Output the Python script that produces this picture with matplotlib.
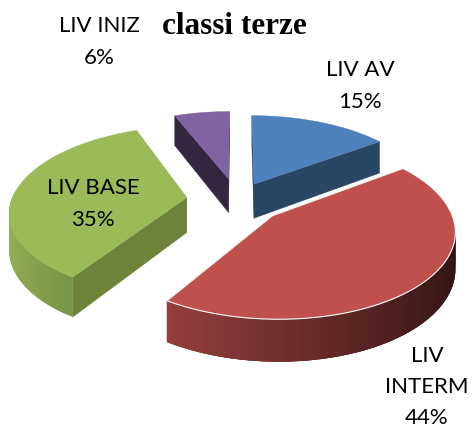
import numpy as np
import matplotlib
matplotlib.use('Agg')
import matplotlib.pyplot as plt
from matplotlib.patches import Polygon

title = 'classi terze'
categories = ['LIV AV', 'LIV\nINTERM', 'LIV BASE', 'LIV INIZ']
values = [15, 44, 35, 6]
explode = [0.22, 0.27, 0.29, 0.27]
colors = ['#4F81BD', '#C0504D', '#9BBB59', '#8064A2']
side_colors = ['#2A4665', '#4F1F1D', '#6E8239', '#33273F']
label_pos = [(360, 86), (427, 387), (93, 204), (99, 42)]

# projection of the pie plane, in pixels
cx, cy = 237, 200
ax_x, ax_y = 175, 83
persp = 0.148
depth = 35


def project(X, Y, z=0):
    w = 1 + persp * Y
    return cx + ax_x * X / w, cy - ax_y * Y / w + depth * z / w


def shade(color, f):
    rgb = np.array(matplotlib.colors.to_rgb(color))
    return tuple(np.clip(rgb * f, 0, 1))


fig = plt.figure(figsize=(4.75, 4.29), dpi=100)
ax = fig.add_axes([0, 0, 1, 1])
ax.set_xlim(0, 475)
ax.set_ylim(429, 0)
ax.axis('off')

angles = np.cumsum([0] + values) / sum(values) * 2 * np.pi
slices = []
for i in range(len(values)):
    t0, t1 = angles[i], angles[i + 1]
    mid = (t0 + t1) / 2
    ox, oy = explode[i] * np.sin(mid), explode[i] * np.cos(mid)
    t = np.linspace(t0, t1, 80)
    slices.append((i, t, ox, oy))

# back slices first so that the red one lies over the blue wall
for i, t, ox, oy in [slices[3], slices[0], slices[2], slices[1]]:
    X = ox + np.sin(t)
    Y = oy + np.cos(t)

    # radial walls
    for tt in (t[0], t[-1]):
        xs, ys = project(np.array([ox, ox + np.sin(tt)]), np.array([oy, oy + np.cos(tt)]))
        xb, yb = project(np.array([ox, ox + np.sin(tt)]), np.array([oy, oy + np.cos(tt)]), 1)
        ax.add_patch(Polygon(np.c_[np.r_[xs, xb[::-1]], np.r_[ys, yb[::-1]]],
                             fc=side_colors[i], ec=side_colors[i], lw=0.3, zorder=2))

    # outer wall, strips overlap so no white seams show through
    for j in range(len(t) - 1):
        if np.cos(t[j]) > 0.02:
            continue
        xs, ys = project(X[j:j + 4], Y[j:j + 4])
        xb, yb = project(X[j:j + 4], Y[j:j + 4], 1)
        f = shade(colors[i], 0.6 - 0.35 * np.sin(t[j]))
        ax.add_patch(Polygon(np.c_[np.r_[xs, xb[::-1]], np.r_[ys, yb[::-1]]],
                             fc=f, ec='none', zorder=2))

    # top face
    xt, yt = project(np.r_[ox, X], np.r_[oy, Y])
    ax.add_patch(Polygon(np.c_[xt, yt], fc=colors[i], ec='white' if i == 1 else colors[i],
                         lw=0.8 if i == 1 else 0.3, zorder=3))

for name, v, (lx, ly) in zip(categories, values, label_pos):
    ax.text(lx, ly, name + '\n' + str(v) + '%', ha='center', va='center', family='Lato',
            fontsize=16, color='black', linespacing=1.7, zorder=5)

ax.text(234, 27, title, ha='center', va='center', family='Liberation Serif',
        fontweight='bold', fontsize=22.5, color='black', zorder=5)

fig.savefig('out.png', dpi=100)
